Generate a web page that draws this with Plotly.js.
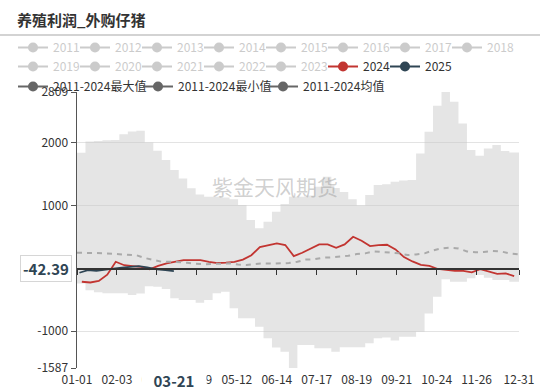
<!DOCTYPE html>
<html><head><meta charset="utf-8">
<script src="https://cdn.plot.ly/plotly-3.0.1.min.js"></script>
<style>html,body{margin:0;padding:0;background:#fff}#chart{width:550px;height:391px}
.legend .scrollbox{clip-path:none !important}</style>
</head><body><div id="chart"></div>
<script>
// ---- data (MM-DD on a 2024 calendar axis) ----
const bandDates = ['01-01','01-08','01-15','01-22','01-29','02-05','02-12','02-19','02-26','03-04','03-11','03-18','03-25','04-01','04-08','04-15','04-22','04-29','05-06','05-13','05-20','05-27','06-03','06-10','06-17','06-24','07-01','07-08','07-15','07-22','07-29','08-05','08-12','08-19','08-26','09-02','09-09','09-16','09-23','09-30','10-07','10-14','10-21','10-28','11-04','11-11','11-18','11-25','12-02','12-09','12-16','12-23','12-31'];
const maxVals = [1841,2020,2030,2040,2045,2138,2180,2190,2006,1873,1724,1565,1433,1274,1178,1140,1140,1130,1099,1008,769,637,742,901,1024,1140,1140,1160,1300,1460,1280,1215,1100,1000,1167,1326,1340,1379,1400,1406,1831,2175,2589,2809,2653,2309,1884,1793,1911,1963,1868,1847,1847];
const minVals = [-240,-350,-380,-398,-398,-398,-425,-400,-285,-293,-330,-478,-505,-505,-548,-505,-398,-372,-637,-796,-796,-930,-1115,-1260,-1328,-1587,-1221,-1221,-1274,-1274,-1328,-1258,-1258,-1258,-1194,-1115,-1100,-1150,-1089,-1089,-1010,-717,-452,-175,-213,-213,-159,-107,-150,-186,-186,-213,-213];
const meanVals = [248,250,245,240,235,228,222,210,165,130,105,105,100,90,75,64,70,80,80,60,53,70,80,75,78,85,105,140,145,170,175,185,200,228,239,270,255,250,239,212,222,239,285,320,328,318,270,255,262,278,270,240,223];

const dates2024 = ['01-05','01-12','01-19','01-26','02-02','02-09','02-16','02-23','03-01','03-08','03-15','03-22','03-29','04-05','04-12','04-19','04-26','05-03','05-10','05-17','05-24','05-31','06-07','06-14','06-21','06-28','07-05','07-12','07-19','07-26','08-02','08-09','08-16','08-23','08-30','09-06','09-13','09-20','09-27','10-04','10-11','10-18','10-25','11-01','11-08','11-15','11-22','11-29','12-06','12-13','12-20','12-27'];
const vals2024 = [-213,-225,-200,-100,105,50,37,25,-16,40,80,110,130,132,130,105,85,90,105,140,210,340,366,398,371,196,248,318,382,382,328,382,503,439,355,371,376,302,180,110,55,38,-10,-25,-40,-40,-64,-14,-50,-88,-80,-123];

const dates2025 = ['01-03','01-10','01-17','01-24','01-31','02-07','02-14','02-21','02-28','03-07','03-14','03-21'];
const vals2025 = [-70,-27,-38,-16,-5,10,25,37,16,-16,-27,-42.39];

const hiddenYears = ['2011','2012','2013','2014','2015','2016','2017','2018','2019','2020','2021','2022','2023'];
const statNames = ['2011-2024最大值','2011-2024最小值','2011-2024均值'];
const tickDates = ['01-01','02-03','03-07','04-09','05-12','06-14','07-17','08-19','09-21','10-24','11-26','12-31'];
const yTicks = [-1587,-1000,1000,2000,2809];
const titleText = '养殖利润_外购仔猪';
const watermark = '紫金天风期货';

// ---- helpers ----
const YR = '2024-';
const D = a => a.map(d => YR + d);
const FONT = 'Noto Sans CJK SC, Noto Sans, sans-serif';
const yMin = Math.min(...yTicks), yMax = Math.max(...yTicks);
const xRange = [YR + tickDates[0], YR + tickDates[tickDates.length - 1]];
const W = 550, H = 391, ML = 77, MR = 31, MT = 92, MB = 23;
const PW = W - ML - MR, PH = H - MT - MB;
const px2x = p => (p - ML) / PW;
const py2y = p => (H - MB - p) / PH;
const lbl = (t, c) => c ? '<span style="color:' + c + '">' + t + '</span>' : t;

const RED = '#c23531', NAVY = '#2f4554';
const traces = [];
traces.push({x: D(bandDates), y: minVals, type: 'scatter', mode: 'lines',
  line: {width: 0, shape: 'hv'}, showlegend: false, hoverinfo: 'skip'});
traces.push({x: D(bandDates), y: maxVals, type: 'scatter', mode: 'lines',
  line: {width: 0, shape: 'hv'}, fill: 'tonexty', fillcolor: 'rgba(200,200,200,0.47)',
  showlegend: false, hoverinfo: 'skip'});
traces.push({x: D(bandDates), y: meanVals, xaxis: 'x2', type: 'scatter', mode: 'lines',
  line: {color: '#aaaaaa', width: 2, dash: '5px,5px'}, showlegend: false});
traces.push({x: D(dates2024), y: vals2024, type: 'scatter', mode: 'lines',
  line: {color: RED, width: 1.8}, showlegend: false});
traces.push({x: D(dates2025), y: vals2025, type: 'scatter', mode: 'lines',
  line: {color: NAVY, width: 1.8}, showlegend: false});

// legend entries (one empty point each so they stay in the legend)
const empty = () => ({x: [xRange[0]], y: [null]});
hiddenYears.forEach(n => traces.push(Object.assign(empty(), {type: 'scatter', mode: 'lines+markers',
  name: lbl(n, '#999'), visible: 'legendonly', legend: 'legend', showlegend: true,
  line: {color: '#999', width: 2}, marker: {color: '#999', size: 10}})));
[['2024', RED], ['2025', NAVY]].forEach(([n, c]) => traces.push(Object.assign(empty(), {type: 'scatter',
  mode: 'lines+markers', name: lbl(n), legend: 'legend', showlegend: true,
  line: {color: c, width: 2}, marker: {color: c, size: 10}})));
statNames.forEach(n => traces.push(Object.assign(empty(), {type: 'scatter', mode: 'lines+markers',
  name: lbl(n), legend: 'legend2', showlegend: true, line: {color: '#666', width: 2}, marker: {color: '#666', size: 10}})));

const mkLegend = (extra) => Object.assign({orientation: 'h', xanchor: 'left', yanchor: 'top',
  bgcolor: 'rgba(0,0,0,0)', font: {family: FONT, size: 12, color: '#333'}, entrywidthmode: 'pixels',
  itemclick: false, itemdoubleclick: false, traceorder: 'normal'}, extra);

const layout = {
  width: W, height: H, margin: {l: ML, r: MR, t: MT, b: MB},
  paper_bgcolor: '#fff', plot_bgcolor: '#fff', showlegend: true,
  font: {family: FONT, size: 12, color: '#333'},
  title: {text: '<b>' + titleText + '</b>', font: {family: FONT, size: 15, color: '#333'},
    x: 17 / W, xanchor: 'left', xref: 'container', y: 1 - 21 / H, yanchor: 'middle', yref: 'container'},
  xaxis: {type: 'date', range: xRange, tickvals: D(tickDates), ticktext: tickDates,
    showgrid: false, zeroline: false, showline: false, ticks: '', ticklabelstandoff: 3,
    tickfont: {family: FONT, size: 12, color: '#333'}},
  xaxis2: {type: 'date', range: xRange, overlaying: 'x', anchor: 'free', side: 'bottom',
    position: (0 - yMin) / (yMax - yMin), tickvals: D(tickDates), showticklabels: false,
    ticks: 'outside', ticklen: 5, tickcolor: '#333', showline: true, linecolor: '#333', linewidth: 1.5,
    showgrid: false, zeroline: false},
  yaxis: {range: [yMin, yMax], tickvals: yTicks, ticktext: yTicks.map(String),
    showgrid: true, gridcolor: '#e3e3e3', zeroline: false, showline: true, linecolor: '#555', linewidth: 1.5,
    ticks: 'outside', ticklen: 5, tickcolor: '#555', tickfont: {family: FONT, size: 12, color: '#333'}},
  legend: mkLegend({x: px2x(13), y: py2y(33), entrywidth: 17}),
  legend2: mkLegend({x: px2x(13), y: py2y(72), entrywidth: 80}),
  shapes: [
    {type: 'line', xref: 'paper', yref: 'paper', x0: px2x(0), x1: px2x(540), y0: py2y(35), y1: py2y(35),
      line: {color: '#c4c4c4', width: 1.5}}
  ],
  annotations: [
    {text: watermark, xref: 'paper', yref: 'paper', x: px2x(275), y: py2y(186), showarrow: false,
      font: {family: FONT, size: 21, color: 'rgba(150,150,150,0.45)'}},
    {text: '<b>' + vals2025[vals2025.length - 1] + '</b>', xref: 'paper', yref: 'y', x: 0,
      y: vals2025[vals2025.length - 1], xanchor: 'right', xshift: -5, yshift: 3, showarrow: false,
      bgcolor: '#fff', bordercolor: '#d6d6d6', borderwidth: 1, borderpad: 2,
      font: {family: FONT, size: 15, color: NAVY}},
    {text: '<b>' + dates2025[dates2025.length - 1] + '</b>', xref: 'x', yref: 'paper',
      x: YR + dates2025[dates2025.length - 1], y: 0, yanchor: 'top', yshift: 0, showarrow: false,
      bgcolor: '#fff', width: 62, height: 20, font: {family: FONT, size: 15, color: NAVY}}
  ]
};

Plotly.newPlot('chart', traces, layout, {displayModeBar: false, staticPlot: true});
</script>
</body></html>
